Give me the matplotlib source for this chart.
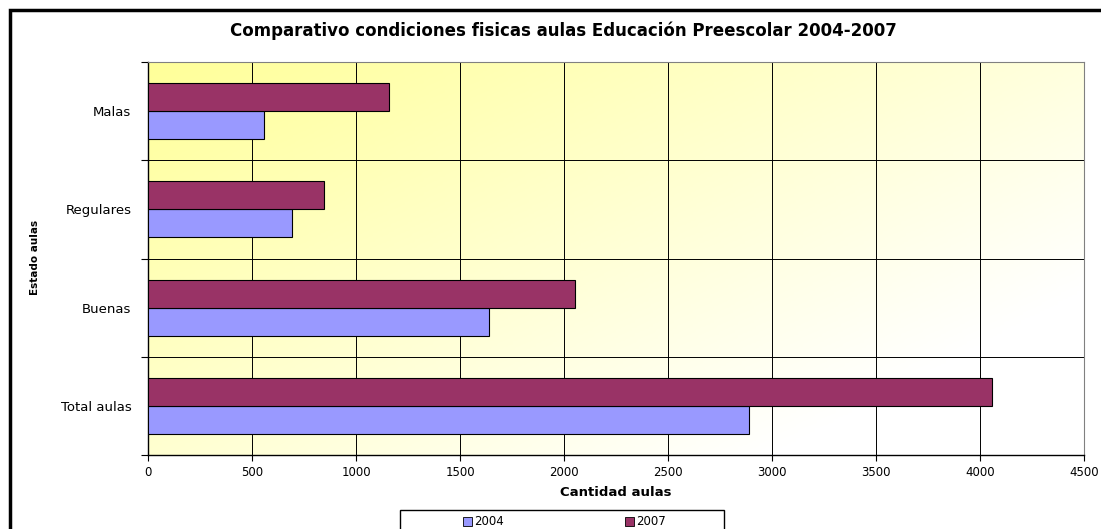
import numpy as np
import matplotlib
matplotlib.use("Agg")
from matplotlib import pyplot as plt
from matplotlib.patches import Rectangle
from matplotlib.colors import LinearSegmentedColormap

plt.rcParams['font.family'] = ['DejaVu Sans']

categories = ["Total aulas", "Buenas", "Regulares", "Malas"]
aulas_2004 = [2889, 1639, 692, 559]
aulas_2007 = [4056, 2053, 848, 1157]
series_names = ["2004", "2007"]
series_colors = ["#9999FF", "#993366"]
x_ticks = [0, 500, 1000, 1500, 2000, 2500, 3000, 3500, 4000, 4500]

fig = plt.figure(figsize=(11.01, 5.29), dpi=100)
ax = fig.add_axes([148 / 1101, 1 - 455 / 529, 936 / 1101, 393 / 529])

# gradient background: yellow top-left fading to white bottom-right
gx, gy = np.meshgrid(np.linspace(0, 1, 200), np.linspace(0, 1, 200))
g = np.clip((gx * 0.75 + gy * 0.6) / 1.1, 0, 1)
cmap = LinearSegmentedColormap.from_list("bg", ["#FFFF99", "#FFFFFF"])
ax.imshow(g, cmap=cmap, extent=[0, 4500, -0.5, 3.5], aspect="auto",
          origin="upper", zorder=0, vmin=0, vmax=1)

y = np.arange(len(categories))
h = 0.285
ax.barh(y - h / 2, aulas_2004, height=h, color=series_colors[0], edgecolor="black",
        linewidth=0.8, zorder=3)
ax.barh(y + h / 2, aulas_2007, height=h, color=series_colors[1], edgecolor="black",
        linewidth=0.8, zorder=3)

ax.set_xlim(0, 4500)
ax.set_ylim(-0.5, 3.5)
ax.set_xticks(x_ticks)
ax.set_xticklabels([str(t) for t in x_ticks], fontsize=8.5)
ax.set_yticks(y)
ax.set_yticklabels(categories, fontsize=9.5)
ax.tick_params(axis="y", length=0, pad=12)
ax.set_yticks(np.arange(-0.5, 3.6, 1), minor=True)
ax.tick_params(axis="y", which="minor", length=5, width=0.8)
ax.tick_params(axis="x", length=4, width=0.8, pad=4)

ax.grid(axis="x", which="major", color="black", linewidth=0.7, zorder=1)
ax.grid(axis="y", which="minor", color="black", linewidth=0.7, zorder=1)
for s in ["top", "right"]:
    ax.spines[s].set_color("#808080")
    ax.spines[s].set_linewidth(0.8)
ax.spines["left"].set_linewidth(1.0)
ax.spines["bottom"].set_linewidth(1.0)

ax.set_xlabel("Cantidad aulas", fontsize=9.5, fontweight="bold", labelpad=5)
fig.text(35 / 1101, 1 - 257 / 529, "Estado aulas", rotation=90, fontsize=7.5,
         fontweight="bold", ha="center", va="center")
fig.text(563 / 1101, 1 - 31 / 529,
         "Comparativo condiciones fisicas aulas Educación Preescolar 2004-2007",
         fontsize=12, fontweight="bold", ha="center", va="center")

# legend box at the bottom (clipped by the figure edge)
fig.patches.append(Rectangle((400 / 1101, -0.05), 324 / 1101, 0.05 + 1 - 510 / 529,
                             transform=fig.transFigure, facecolor="white",
                             edgecolor="black", linewidth=1.0))
for name, col, mx in zip(series_names, series_colors, [463, 625]):
    fig.patches.append(Rectangle((mx / 1101, 1 - 526 / 529), 9 / 1101, 9 / 529,
                                 transform=fig.transFigure, facecolor=col,
                                 edgecolor="black", linewidth=0.6))
    fig.text((mx + 11) / 1101, 1 - 521.5 / 529, name, fontsize=8.5,
             ha="left", va="center")

# outer chart frame
fig.patches.append(Rectangle((10 / 1101, -0.1), 1.2, 1.1 - 10 / 529,
                             transform=fig.transFigure, fill=False,
                             edgecolor="black", linewidth=2.5))

fig.savefig("out.png", dpi=100)
